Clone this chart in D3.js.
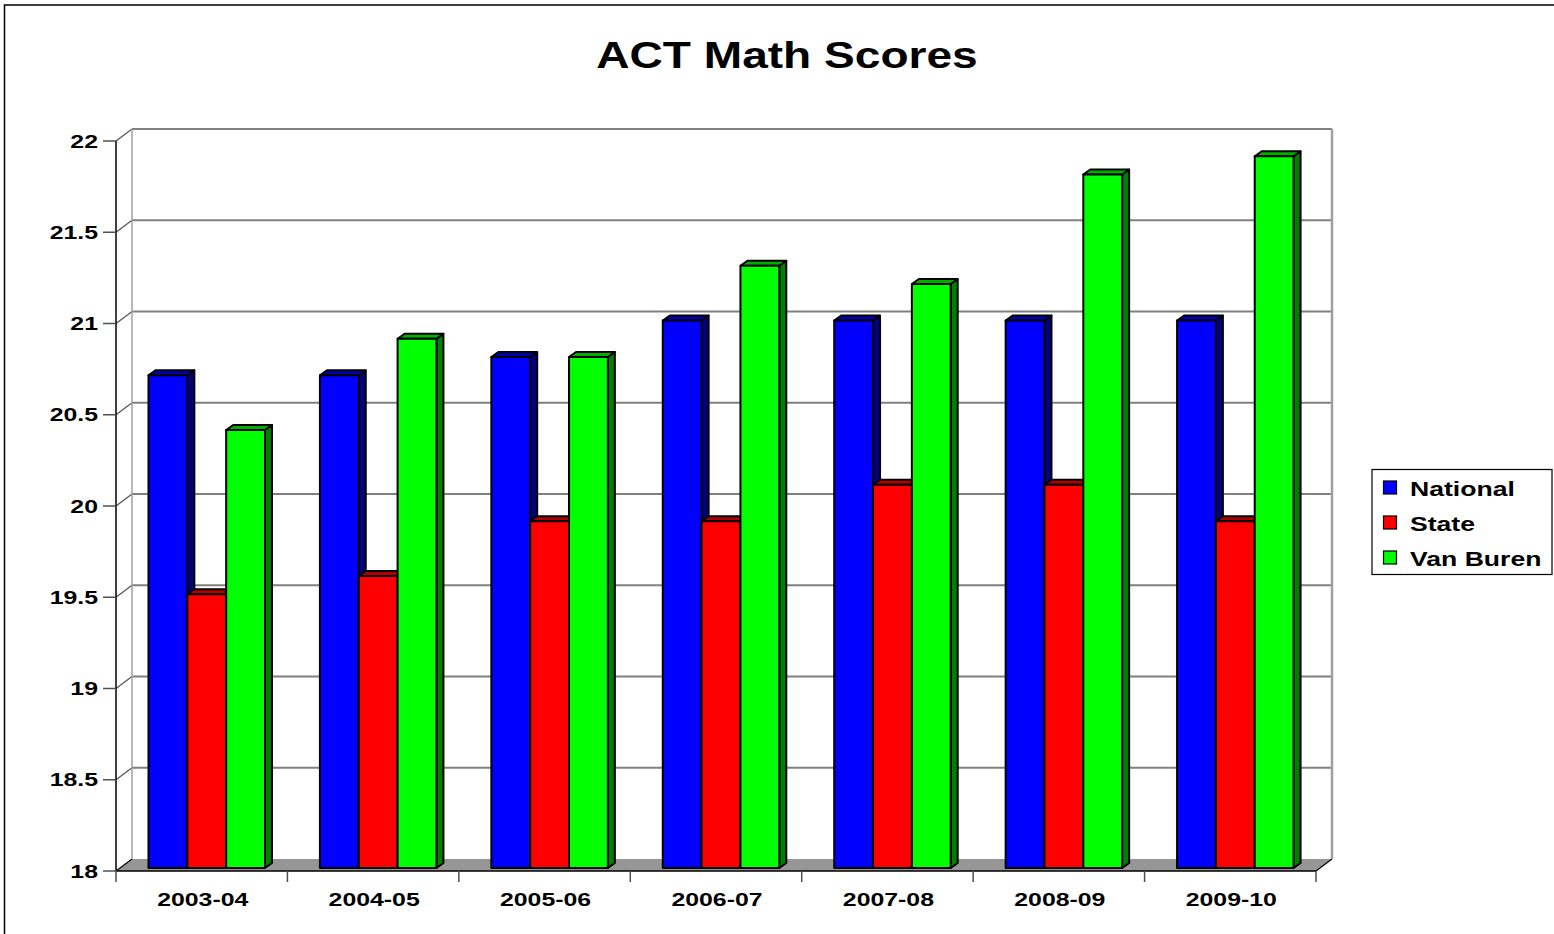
<!DOCTYPE html>
<html>
<head>
<meta charset="utf-8">
<script src="https://cdn.jsdelivr.net/npm/d3@7"></script>
<style>
    body { margin: 0; background: #fff; }
    svg { display: block; }
    text { font-family: "Liberation Sans", Arial, sans-serif; font-weight: bold; fill: #000; }
</style>
</head>
<body>
<div id="chart"></div>
<script>
const years = ['2003-04', '2004-05', '2005-06', '2006-07', '2007-08', '2008-09', '2009-10'];
const seriesNames = ['National', 'State', 'Van Buren'];
const national = [20.7, 20.7, 20.8, 21.0, 21.0, 21.0, 21.0];
const state = [19.5, 19.6, 19.9, 19.9, 20.1, 20.1, 19.9];
const vanBuren = [20.4, 20.9, 20.8, 21.3, 21.2, 21.8, 21.9];
const yTicks = [18, 18.5, 19, 19.5, 20, 20.5, 21, 21.5, 22];

const seriesValues = [national, state, vanBuren];
const colors = ['#0000ff', '#ff0000', '#00ff00'];
const sideColors = ['#000080', '#800000', '#008000'];
const topColors = ['#0000b0', '#b00000', '#00b000'];

const W = 1554, H = 934;
const plotLeft = 116, plotRight = 1316, plotBottom = 871, plotTop = 141;
const wallDx = 16, wallDy = -12;   // back wall offset
const barShiftX = 4, barShiftY = -3; // bars sit a bit behind the front edge
const barDx = 7, barDy = -5;        // bar depth

const svg = d3.select('#chart').append('svg')
    .attr('width', W)
    .attr('height', H);

// outer border
svg.append('rect')
    .attr('x', 4.5).attr('y', 5)
    .attr('width', W + 10).attr('height', H + 10)
    .attr('fill', 'none')
    .attr('stroke', '#000')
    .attr('stroke-width', 1.5);

const x = d3.scaleBand().domain(years).range([plotLeft, plotRight]);
const y = d3.scaleLinear().domain([18, 22]).range([plotBottom, plotTop]);
const xs = d3.scaleBand().domain(seriesNames).range([28.5, 28.5 + 116.5]);

// stretched text helper
function label(sel, tx, ty, size, sx, anchor, txt) {
    return sel.append('text')
        .attr('transform', `translate(${tx},${ty}) scale(${sx},1)`)
        .attr('font-size', size)
        .attr('text-anchor', anchor)
        .text(txt);
}

// title
label(svg, 787, 68, 36, 1.28, 'middle', 'ACT Math Scores');

// floor
svg.append('polygon')
    .attr('points', [
        [plotLeft, plotBottom], [plotRight, plotBottom],
        [plotRight + wallDx, plotBottom + wallDy], [plotLeft + wallDx, plotBottom + wallDy]
    ].join(' '))
    .attr('fill', '#969696');

// back wall gridlines
const grid = svg.append('g');
yTicks.forEach(t => {
    if (t > 18) {
        grid.append('line')
            .attr('x1', plotLeft + wallDx).attr('x2', plotRight + wallDx)
            .attr('y1', y(t) + wallDy).attr('y2', y(t) + wallDy)
            .attr('stroke', '#808080')
            .attr('stroke-width', 2);
    }
    grid.append('line')
        .attr('x1', plotLeft).attr('y1', y(t))
        .attr('x2', plotLeft + wallDx).attr('y2', y(t) + wallDy)
        .attr('stroke', t === 18 ? '#000' : '#505050')
        .attr('stroke-width', 1.2);
});

// wall edges
grid.append('line')
    .attr('x1', plotLeft + wallDx).attr('x2', plotLeft + wallDx)
    .attr('y1', y(22) + wallDy).attr('y2', y(18) + wallDy)
    .attr('stroke', '#a0a0a0').attr('stroke-width', 1.5);
grid.append('line')
    .attr('x1', plotRight + wallDx).attr('x2', plotRight + wallDx)
    .attr('y1', y(22) + wallDy).attr('y2', y(18) + wallDy)
    .attr('stroke', '#a0a0a0').attr('stroke-width', 2.5);
grid.append('line')
    .attr('x1', plotRight).attr('y1', plotBottom)
    .attr('x2', plotRight + wallDx).attr('y2', plotBottom + wallDy)
    .attr('stroke', '#000').attr('stroke-width', 1.2);

// bars
const bars = svg.append('g');
years.forEach((yr, i) => {
    seriesNames.forEach((s, j) => {
        const v = seriesValues[j][i];
        const x0 = x(yr) + xs(s) + barShiftX;
        const x1 = x0 + xs.bandwidth();
        const yt = y(v) + barShiftY;
        const yb = y(18) + barShiftY;
        const g = bars.append('g')
            .attr('stroke', '#000')
            .attr('stroke-width', 2)
            .attr('stroke-linejoin', 'round');
        g.append('polygon')
            .attr('points', [[x1, yt], [x1 + barDx, yt + barDy], [x1 + barDx, yb + barDy], [x1, yb]].join(' '))
            .attr('fill', sideColors[j]);
        g.append('polygon')
            .attr('points', [[x0, yt], [x1, yt], [x1 + barDx, yt + barDy], [x0 + barDx, yt + barDy]].join(' '))
            .attr('fill', topColors[j]);
        g.append('rect')
            .attr('x', x0).attr('y', yt)
            .attr('width', x1 - x0).attr('height', yb - yt)
            .attr('fill', colors[j]);
    });
});

// y axis
const yAxis = svg.append('g');
yAxis.append('line')
    .attr('x1', plotLeft).attr('x2', plotLeft)
    .attr('y1', y(22)).attr('y2', y(18))
    .attr('stroke', '#000').attr('stroke-width', 1.5);
yTicks.forEach(t => {
    yAxis.append('line')
        .attr('x1', plotLeft - 13).attr('x2', plotLeft)
        .attr('y1', y(t)).attr('y2', y(t))
        .attr('stroke', '#505050').attr('stroke-width', 1.5);
    label(yAxis, 98, y(t) + 6.5, 18, 1.38, 'end', t);
});

// x axis
const xAxis = svg.append('g');
xAxis.append('line')
    .attr('x1', plotLeft).attr('x2', plotRight)
    .attr('y1', plotBottom).attr('y2', plotBottom)
    .attr('stroke', '#000').attr('stroke-width', 1.5);
d3.range(years.length + 1).forEach(i => {
    const tx = plotLeft + i * x.step();
    xAxis.append('line')
        .attr('x1', tx).attr('x2', tx)
        .attr('y1', plotBottom).attr('y2', plotBottom + 11)
        .attr('stroke', '#505050').attr('stroke-width', 1.5);
});
years.forEach(yr => {
    label(xAxis, x(yr) + x.bandwidth() / 2 + 1, 906, 18, 1.38, 'middle', yr);
});

// legend
const legend = svg.append('g');
legend.append('rect')
    .attr('x', 1372).attr('y', 469.5)
    .attr('width', 180).attr('height', 105)
    .attr('fill', '#fff')
    .attr('stroke', '#000')
    .attr('stroke-width', 1.2);
seriesNames.forEach((s, j) => {
    const cy = 488 + j * 35;
    legend.append('rect')
        .attr('x', 1383.5).attr('y', cy - 7)
        .attr('width', 13).attr('height', 13)
        .attr('fill', colors[j])
        .attr('stroke', '#000')
        .attr('stroke-width', 1.2);
    label(legend, 1410, cy + 7.5, 20, 1.33, 'start', s);
});
</script>
</body>
</html>
